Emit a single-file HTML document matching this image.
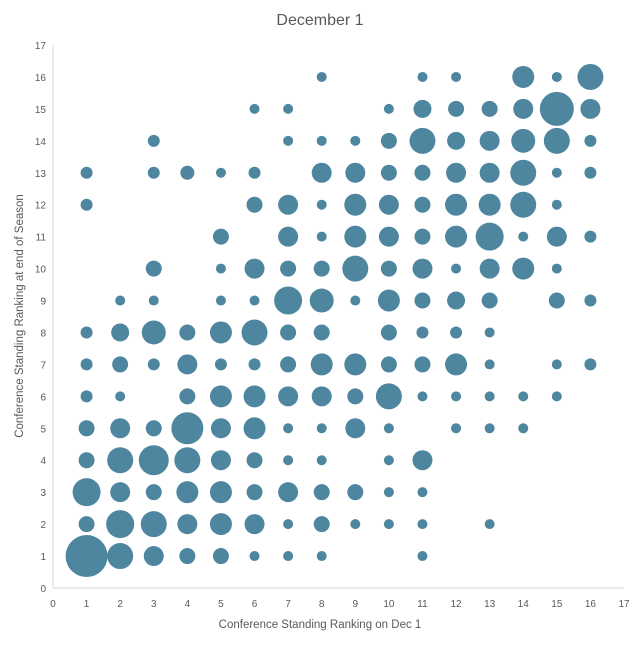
<!DOCTYPE html>
<html><head><meta charset="utf-8"><style>
html,body{margin:0;padding:0;background:#fff;}
svg text{font-family:"Liberation Sans",sans-serif;fill:#595959;}
</style></head><body>
<svg id="c" width="640" height="645" xmlns="http://www.w3.org/2000/svg">
<rect width="640" height="645" fill="#fff"/>
<text x="320" y="25" text-anchor="middle" font-size="16">December 1</text>
<line x1="53" y1="45" x2="53" y2="588" stroke="#d9d9d9"/>
<line x1="53" y1="588" x2="624" y2="588" stroke="#d9d9d9"/>
<text x="320" y="628" text-anchor="middle" font-size="11.5">Conference Standing Ranking on Dec 1</text>
<text transform="translate(23,316) rotate(-90)" text-anchor="middle" font-size="11.5">Conference Standing Ranking at end of Season</text>
<g id="g"></g>
</svg>
<script>
var X=function(v){return 53+v*571/17},Y=function(v){return 588-v*543/17};
var s='';
for(var i=0;i<=17;i++){s+='<text x="'+X(i)+'" y="607" text-anchor="middle" font-size="10">'+i+'</text>';
s+='<text x="46" y="'+(Y(i)+4)+'" text-anchor="end" font-size="10">'+i+'</text>';}
var d={
16:[[8,5],[11,5],[12,5],[14,11],[15,5],[16,13]],
15:[[6,5],[7,5],[10,5],[11,9],[12,8],[13,8],[14,10],[15,17],[16,10]],
14:[[3,6],[7,5],[8,5],[9,5],[10,8],[11,13],[12,9],[13,10],[14,12],[15,13],[16,6]],
13:[[1,6],[3,6],[4,7],[5,5],[6,6],[8,10],[9,10],[10,8],[11,8],[12,10],[13,10],[14,13],[15,5],[16,6]],
12:[[1,6],[6,8],[7,10],[8,5],[9,11],[10,10],[11,8],[12,11],[13,11],[14,13],[15,5]],
11:[[5,8],[7,10],[8,5],[9,11],[10,10],[11,8],[12,11],[13,14],[14,5],[15,10],[16,6]],
10:[[3,8],[5,5],[6,10],[7,8],[8,8],[9,13],[10,8],[11,10],[12,5],[13,10],[14,11],[15,5]],
9:[[2,5],[3,5],[5,5],[6,5],[7,14],[8,12],[9,5],[10,11],[11,8],[12,9],[13,8],[15,8],[16,6]],
8:[[1,6],[2,9],[3,12],[4,8],[5,11],[6,13],[7,8],[8,8],[10,8],[11,6],[12,6],[13,5]],
7:[[1,6],[2,8],[3,6],[4,10],[5,6],[6,6],[7,8],[8,11],[9,11],[10,8],[11,8],[12,11],[13,5],[15,5],[16,6]],
6:[[1,6],[2,5],[4,8],[5,11],[6,11],[7,10],[8,10],[9,8],[10,13],[11,5],[12,5],[13,5],[14,5],[15,5]],
5:[[1,8],[2,10],[3,8],[4,16],[5,10],[6,11],[7,5],[8,5],[9,10],[10,5],[12,5],[13,5],[14,5]],
4:[[1,8],[2,13],[3,15],[4,13],[5,10],[6,8],[7,5],[8,5],[10,5],[11,10]],
3:[[1,14],[2,10],[3,8],[4,11],[5,11],[6,8],[7,10],[8,8],[9,8],[10,5],[11,5]],
2:[[1,8],[2,14],[3,13],[4,10],[5,11],[6,10],[7,5],[8,8],[9,5],[10,5],[11,5],[13,5]],
1:[[1,21],[2,13],[3,10],[4,8],[5,8],[6,5],[7,5],[8,5],[11,5]]};
for(var y in d)d[y].forEach(function(p){s+='<circle cx="'+X(p[0])+'" cy="'+Y(+y)+'" r="'+p[1]+'" fill="#4e86a0"/>';});
document.getElementById('g').innerHTML=s;
</script>
</body></html>
